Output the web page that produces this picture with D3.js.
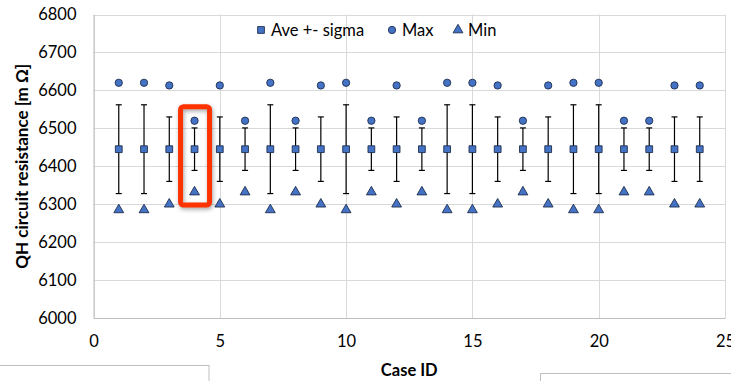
<!DOCTYPE html>
<html>
<head>
<meta charset="utf-8">
<script src="https://cdn.jsdelivr.net/npm/d3@7"></script>
<style>
  body { margin: 0; background: #fff; }
  svg { display: block; font-family: Lato, "Open Sans", sans-serif; }
</style>
</head>
<body>
<svg id="chart" width="731" height="381"></svg>
<script>
// Data (24 cases)
const caseIds = d3.range(1, 25);
const aveValues = caseIds.map(() => 6445);
const sigmaValues = [117, 117, 85, 56, 85, 56, 117, 56, 85, 117, 56, 85,
                     56, 117, 117, 85, 56, 85, 117, 117, 56, 56, 85, 85];
const maxValues = [6620, 6620, 6613, 6520, 6613, 6520, 6620, 6520, 6613, 6620, 6520, 6613,
                   6520, 6620, 6620, 6613, 6520, 6613, 6620, 6620, 6520, 6520, 6613, 6613];
const minValues = [6285, 6285, 6300, 6332, 6300, 6332, 6285, 6332, 6300, 6285, 6332, 6300,
                   6332, 6285, 6285, 6300, 6332, 6300, 6285, 6285, 6332, 6332, 6300, 6300];
const xTicks = [0, 5, 10, 15, 20, 25];
const yTicks = d3.range(6000, 6801, 100);
const highlightCase = 4;

const rows = caseIds.map((id, i) => ({
    id: id, ave: aveValues[i], sigma: sigmaValues[i], max: maxValues[i], min: minValues[i]
}));

const svg = d3.select("#chart");
const blue = "#4472C4";
const edge = "#1f2f4f";

// Scales
const x = d3.scaleLinear().domain([0, 25]).range([93.5, 725]);
const y = d3.scaleLinear().domain([6000, 6800]).range([318, 14.5]);

// Gridlines
svg.append("g").selectAll("line").data(yTicks).join("line")
    .attr("x1", x(0)).attr("x2", x(25))
    .attr("y1", d => Math.round(y(d)) + 0.5).attr("y2", d => Math.round(y(d)) + 0.5)
    .attr("stroke", "#d9d9d9").attr("stroke-width", 1);
svg.append("g").selectAll("line").data(xTicks).join("line")
    .attr("x1", d => Math.round(x(d)) + 0.5).attr("x2", d => Math.round(x(d)) + 0.5)
    .attr("y1", y(6800)).attr("y2", y(6000))
    .attr("stroke", "#d9d9d9").attr("stroke-width", 1);

// Axes (labels only, the lines come from the grid)
const xAxis = svg.append("g")
    .attr("transform", `translate(0,${y(6000)})`)
    .call(d3.axisBottom(x).tickValues(xTicks).tickSize(0).tickPadding(17));
const yAxis = svg.append("g")
    .attr("transform", `translate(${x(0)},0)`)
    .call(d3.axisLeft(y).tickValues(yTicks).tickSize(0).tickPadding(17).tickFormat(d3.format("d")));
[xAxis, yAxis].forEach(a => {
    a.select(".domain").attr("stroke", "#bfbfbf");
    a.selectAll("text").attr("font-size", 16.5).attr("fill", "#000").attr("font-family", "Lato, sans-serif");
});

// Axis titles
svg.append("text")
    .attr("x", (x(0) + x(25)) / 2).attr("y", 376)
    .attr("text-anchor", "middle").attr("font-weight", "bold").attr("font-size", 16.5)
    .text("Case ID");
svg.append("text")
    .attr("transform", `translate(28,${(y(6000) + y(6800)) / 2}) rotate(-90)`)
    .attr("text-anchor", "middle").attr("font-weight", "bold").attr("font-size", 17)
    .text("QH circuit resistance [m Ω]");

// Error bars
const bars = svg.append("g").attr("stroke", "#000").attr("stroke-width", 1.2);
bars.selectAll(".stem").data(rows).join("line").attr("class", "stem")
    .attr("x1", d => x(d.id)).attr("x2", d => x(d.id))
    .attr("y1", d => y(d.ave + d.sigma)).attr("y2", d => y(d.ave - d.sigma));
bars.selectAll(".capTop").data(rows).join("line").attr("class", "capTop")
    .attr("x1", d => x(d.id) - 3).attr("x2", d => x(d.id) + 3)
    .attr("y1", d => y(d.ave + d.sigma)).attr("y2", d => y(d.ave + d.sigma));
bars.selectAll(".capBot").data(rows).join("line").attr("class", "capBot")
    .attr("x1", d => x(d.id) - 3).attr("x2", d => x(d.id) + 3)
    .attr("y1", d => y(d.ave - d.sigma)).attr("y2", d => y(d.ave - d.sigma));

// Markers
const sq = d3.symbol(d3.symbolSquare, 46);
const circ = d3.symbol(d3.symbolCircle, 42);
const tri = d3.symbol(d3.symbolTriangle, 42);

function markers(sym, key) {
    svg.append("g").selectAll("path").data(rows).join("path")
        .attr("d", sym)
        .attr("transform", d => `translate(${x(d.id)},${y(d[key])})`)
        .attr("fill", blue).attr("stroke", edge).attr("stroke-width", 0.9);
}
markers(sq, "ave");
markers(circ, "max");
markers(tri, "min");

// Legend
const legendItems = [
    { label: "Ave +- sigma", sym: sq, x: 261 },
    { label: "Max", sym: circ, x: 392 },
    { label: "Min", sym: tri, x: 458 }
];
const legend = svg.append("g").attr("transform", "translate(0,30)");
legend.selectAll("path").data(legendItems).join("path")
    .attr("d", d => d.sym())
    .attr("transform", d => `translate(${d.x},0)`)
    .attr("fill", blue).attr("stroke", edge).attr("stroke-width", 0.9);
legend.selectAll("text").data(legendItems).join("text")
    .attr("x", d => d.x + 10).attr("y", 6)
    .attr("font-size", 16.5)
    .text(d => d.label);

// Red highlight box around case 4
const hi = rows[highlightCase - 1];
svg.append("rect")
    .attr("x", x(hi.id) - 14).attr("y", y(hi.max) - 14)
    .attr("width", 29).attr("height", y(hi.min) - y(hi.max) + 27)
    .attr("rx", 3)
    .attr("fill", "none").attr("stroke", "#ff3300").attr("stroke-width", 5)
    .style("filter", "drop-shadow(1px 2px 2px rgba(0,0,0,0.35))");

// Partial text boxes at the bottom edge
svg.append("rect").attr("x", -2).attr("y", 365.5).attr("width", 211).attr("height", 30)
    .attr("fill", "none").attr("stroke", "#bfbfbf");
svg.append("rect").attr("x", 540.5).attr("y", 373.5).attr("width", 200).attr("height", 30)
    .attr("fill", "none").attr("stroke", "#bfbfbf");
</script>
</body>
</html>
